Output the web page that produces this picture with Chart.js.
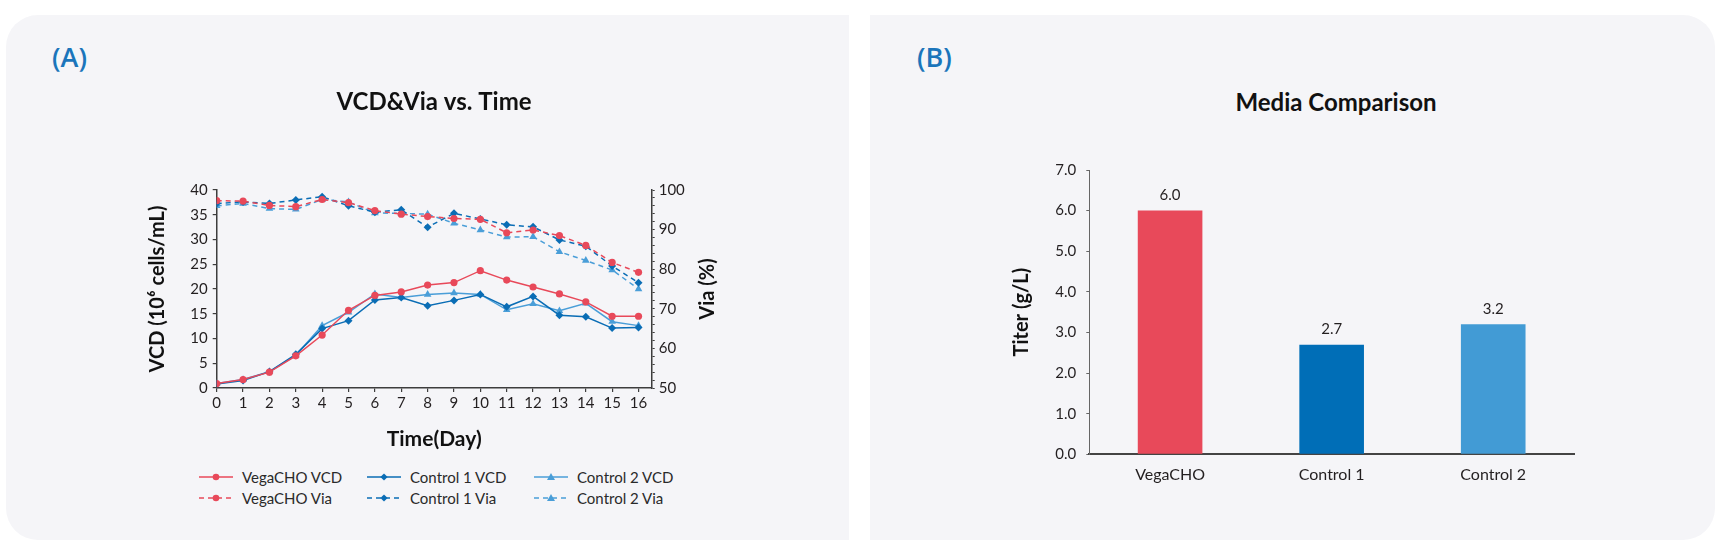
<!DOCTYPE html>
<html>
<head>
<meta charset="utf-8">
<script src="https://cdn.jsdelivr.net/npm/chart.js@4.4.1/dist/chart.umd.min.js"></script>
<style>
  html, body { margin: 0; padding: 0; background: #fff; }
  body { width: 1720px; height: 546px; position: relative; overflow: hidden; font-family: Lato, "Open Sans", sans-serif; }
  .panel { position: absolute; top: 15px; height: 525px; background: #F5F5F8; }
  #panelA { left: 6px; width: 843px; border-radius: 32px 0 0 32px; }
  #panelB { left: 870px; width: 845px; border-radius: 0 32px 32px 0; }
  .tag { position: absolute; top: 42px; font-family: "Open Sans", Lato, sans-serif; font-size: 27px; line-height: 30px; font-weight: 600; color: #1B75BB; }
  .ttl { position: absolute; text-align: center; font-size: 24px; line-height: 30px; font-weight: bold; color: #111; }
  canvas { position: absolute; }
  .lg { position: absolute; display: flex; align-items: center; font-size: 15px; color: #2a2a2a; white-space: nowrap; }
  .lg svg { margin-right: 9px; }
</style>
</head>
<body>
<div class="panel" id="panelA"></div>
<div class="panel" id="panelB"></div>
<div class="tag" style="left:52px">(A)</div>
<div class="tag" style="left:917px">(B)</div>
<div class="ttl" style="left:1136px;top:87px;width:400px">Media Comparison</div>
<canvas id="vcdChart" width="628" height="380" style="left:120px;top:80px"></canvas>
<canvas id="titerChart" width="680" height="420" style="left:1000px;top:80px"></canvas>
<div id="legend"></div>
<script>
// culture days
const days = [0, 1, 2, 3, 4, 5, 6, 7, 8, 9, 10, 11, 12, 13, 14, 15, 16];

// VCD (10^6 cells/mL)
const vegaVcd  = [0.9, 1.7, 3.2, 6.5, 10.7, 15.7, 18.7, 19.4, 20.8, 21.3, 23.7, 21.8, 20.4, 19.0, 17.4, 14.5, 14.5];
const ctrl1Vcd = [0.8, 1.5, 3.3, 6.8, 12.0, 13.6, 17.8, 18.3, 16.6, 17.7, 18.9, 16.4, 18.5, 14.7, 14.4, 12.1, 12.2];
const ctrl2Vcd = [0.9, 1.7, 3.3, 6.6, 12.6, 15.3, 19.0, 18.3, 18.9, 19.2, 18.9, 15.8, 17.0, 15.6, 17.1, 13.4, 12.6];

// viability (%)
const vegaVia  = [97.3, 97.2, 96.1, 95.8, 97.6, 96.8, 94.8, 93.9, 93.3, 92.8, 92.6, 89.2, 89.9, 88.5, 86.0, 81.7, 79.2];
const ctrl1Via = [96.6, 97.0, 96.6, 97.5, 98.3, 96.0, 94.4, 95.0, 90.6, 94.1, 92.7, 91.2, 90.7, 87.4, 85.8, 80.8, 76.6];
const ctrl2Via = [96.0, 96.6, 95.3, 95.1, 97.6, 97.0, 94.2, 94.1, 93.9, 91.6, 89.9, 88.1, 88.2, 84.4, 82.2, 79.8, 75.0];

// titer (g/L)
const media = ['VegaCHO', 'Control 1', 'Control 2'];
const titer = [6.0, 2.7, 3.2];

const RED = '#E8495A', DARK = '#0A6DB5', LIGHT = '#4A9ED8';
const FONT = 'Lato, "Open Sans", sans-serif';
const INK = '#231F20', AXIS = '#3d3d3d';

const pts = arr => days.map((d, i) => ({ x: d, y: arr[i] }));

function series(label, arr, color, shape, radius, dashed, axis) {
    return {
        label: label,
        data: pts(arr),
        yAxisID: axis,
        borderColor: color,
        backgroundColor: color,
        borderWidth: 1.5,
        borderDash: dashed ? [5, 4] : [],
        pointStyle: shape,
        pointRadius: radius,
        pointBorderWidth: 0,
        pointBackgroundColor: color,
        tension: 0
    };
}

const vcdSets = [
    series('VegaCHO VCD', vegaVcd, RED, 'circle', 3.6, false, 'y'),
    series('Control 1 VCD', ctrl1Vcd, DARK, 'rectRot', 4, false, 'y'),
    series('Control 2 VCD', ctrl2Vcd, LIGHT, 'triangle', 4.4, false, 'y'),
    series('VegaCHO Via', vegaVia, RED, 'circle', 3.6, true, 'y2'),
    series('Control 1 Via', ctrl1Via, DARK, 'rectRot', 4, true, 'y2'),
    series('Control 2 Via', ctrl2Via, LIGHT, 'triangle', 4.4, true, 'y2')
];

// right axis title reads bottom-to-top, so draw it ourselves
const viaTitle = {
    id: 'viaTitle',
    afterDraw(chart) {
        const s = chart.scales.y2, a = chart.chartArea, ctx = chart.ctx;
        ctx.save();
        ctx.translate(s.left + 56, (a.top + a.bottom) / 2);
        ctx.rotate(-Math.PI / 2);
        ctx.font = 'bold 20px ' + FONT;
        ctx.fillStyle = '#111';
        ctx.textAlign = 'center';
        ctx.textBaseline = 'middle';
        ctx.fillText('Via (%)', 0, 0);
        ctx.restore();
    }
};

new Chart(document.getElementById('vcdChart'), {
    type: 'line',
    data: { datasets: vcdSets },
    plugins: [viaTitle],
    options: {
        responsive: false,
        animation: false,
        layout: { padding: 0 },
        plugins: {
            legend: { display: false },
            tooltip: { enabled: false },
            title: {
                display: true,
                text: 'VCD&Via vs. Time',
                color: '#111',
                font: { family: FONT, size: 24, weight: 'bold' },
                padding: { top: 8, bottom: 73.2 }
            }
        },
        scales: {
            x: {
                type: 'linear',
                min: 0,
                max: 16.5,
                afterBuildTicks: s => { s.ticks = days.map(d => ({ value: d })); },
                afterFit: s => { s.height = 72; },
                ticks: { autoSkip: false, maxRotation: 0, padding: 2, color: INK, font: { family: FONT, size: 15 } },
                grid: { drawOnChartArea: false, tickLength: 4, color: AXIS, lineWidth: 1.2 },
                border: { color: AXIS, width: 1.5 },
                title: { display: true, text: 'Time(Day)', color: '#111', font: { family: FONT, size: 21, weight: 'bold' }, padding: { top: 0, bottom: 8 } }
            },
            y: {
                position: 'left',
                min: 0,
                max: 40,
                afterFit: s => { s.width = 96.7; },
                ticks: { stepSize: 5, autoSkip: false, padding: 5, color: INK, font: { family: FONT, size: 15 } },
                grid: { drawOnChartArea: false, tickLength: 4, color: AXIS, lineWidth: 1.2 },
                border: { color: AXIS, width: 1.5 },
                title: { display: true, text: 'VCD (10⁶ cells/mL)', color: '#111', font: { family: FONT, size: 20, weight: 'bold' }, padding: { top: 26, bottom: 0 } }
            },
            y2: {
                position: 'right',
                min: 50,
                max: 100,
                afterFit: s => { s.width = 96.3; },
                ticks: { stepSize: 2, autoSkip: false, padding: 4, color: INK, font: { family: FONT, size: 15 },
                         callback: v => (v % 10 === 0 ? v : '') },
                grid: { drawOnChartArea: false, tickLength: 3, color: AXIS, lineWidth: 1 },
                border: { color: AXIS, width: 1.5 }
            }
        }
    }
});

// legend: 3 columns x 2 rows, line + marker + text
const legendCols = [199, 367, 534];
const legendRows = [477, 497.5];
const legend = document.getElementById('legend');
vcdSets.forEach((ds, i) => {
    const c = ds.borderColor, cx = 17, cy = 6;
    let mark;
    if (ds.pointStyle === 'circle') mark = `<circle cx="${cx}" cy="${cy}" r="3.3" fill="${c}"/>`;
    else if (ds.pointStyle === 'rectRot') mark = `<polygon points="${cx},${cy - 3.6} ${cx + 3.6},${cy} ${cx},${cy + 3.6} ${cx - 3.6},${cy}" fill="${c}"/>`;
    else mark = `<polygon points="${cx},${cy - 4} ${cx + 4},${cy + 3} ${cx - 4},${cy + 3}" fill="${c}"/>`;
    const dash = ds.borderDash.length ? 'stroke-dasharray="5 4"' : '';
    const el = document.createElement('div');
    el.className = 'lg';
    el.style.left = legendCols[i % 3] + 'px';
    el.style.top = (legendRows[Math.floor(i / 3)] - 9) + 'px';
    el.innerHTML = `<svg width="34" height="12"><line x1="0" y1="6" x2="34" y2="6" stroke="${c}" stroke-width="1.5" ${dash}/>${mark}</svg><span>${ds.label}</span>`;
    legend.appendChild(el);
});

// value labels above bars
const barValues = {
    id: 'barValues',
    afterDatasetsDraw(chart) {
        const ctx = chart.ctx;
        const meta = chart.getDatasetMeta(0);
        ctx.save();
        ctx.font = '15px ' + FONT;
        ctx.fillStyle = INK;
        ctx.textAlign = 'center';
        ctx.textBaseline = 'middle';
        meta.data.forEach((bar, i) => {
            ctx.fillText(chart.data.datasets[0].data[i].toFixed(1), bar.x, bar.y - 15);
        });
        ctx.restore();
    }
};

new Chart(document.getElementById('titerChart'), {
    type: 'bar',
    data: {
        labels: media,
        datasets: [{
            label: 'Titer',
            data: titer,
            backgroundColor: [RED, '#006EB7', '#429BD5'],
            barPercentage: 0.4,
            categoryPercentage: 1.0
        }]
    },
    plugins: [barValues],
    options: {
        responsive: false,
        animation: false,
        layout: { padding: { top: 90, right: 106 } },
        plugins: {
            legend: { display: false },
            tooltip: { enabled: false },
            title: { display: false }
        },
        scales: {
            x: {
                afterFit: s => { s.height = 45.7; },
                ticks: { padding: 11, color: INK, font: { family: FONT, size: 16 } },
                grid: { display: false, drawTicks: false },
                border: { color: '#444', width: 2 }
            },
            y: {
                min: 0,
                max: 7,
                afterFit: s => { s.width = 89.3; },
                ticks: { stepSize: 1, padding: 10, color: INK, font: { family: FONT, size: 15 }, callback: v => v.toFixed(1) },
                grid: { drawOnChartArea: false, tickLength: 3, color: '#666', lineWidth: 1 },
                border: { color: '#666', width: 1 },
                title: { display: true, text: 'Titer (g/L)', color: '#111', font: { family: FONT, size: 20, weight: 'bold' }, padding: { top: 10, bottom: 0 } }
            }
        }
    }
});
</script>
</body>
</html>
